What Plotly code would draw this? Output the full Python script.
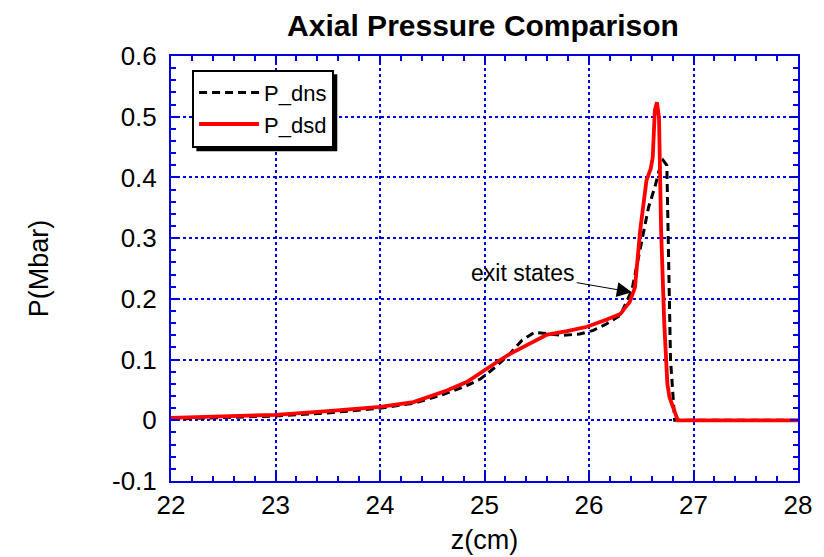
import plotly.graph_objects as go

# ---- data ----
z_dns = [22.0, 22.5, 23.0, 23.5, 24.0, 24.32, 24.58, 24.83, 24.96, 25.10, 25.24,
         25.36, 25.48, 25.63, 25.75, 25.91, 26.04, 26.17, 26.30, 26.41, 26.49,
         26.57, 26.63, 26.68, 26.71, 26.745, 26.78, 26.82, 27.0, 27.5, 28.0]
p_dns = [0.002, 0.004, 0.007, 0.012, 0.020, 0.028, 0.041, 0.057, 0.068, 0.087, 0.109,
         0.132, 0.145, 0.142, 0.140, 0.142, 0.148, 0.159, 0.173, 0.214, 0.285,
         0.351, 0.384, 0.417, 0.428, 0.420, 0.100, 0.0, 0.0, 0.0, 0.0]

z_dsd = [22.0, 22.5, 23.0, 23.5, 24.0, 24.32, 24.64, 24.83, 24.99, 25.12, 25.24,
         25.37, 25.60, 25.79, 25.98, 26.17, 26.30, 26.39, 26.44, 26.49, 26.55,
         26.59, 26.61, 26.63, 26.65, 26.67, 26.69, 26.72, 26.735, 26.75, 26.77,
         26.85, 27.0, 27.5, 28.0]
p_dsd = [0.004, 0.006, 0.009, 0.015, 0.022, 0.030, 0.049, 0.063, 0.082, 0.096, 0.109,
         0.120, 0.141, 0.147, 0.154, 0.166, 0.175, 0.195, 0.219, 0.313, 0.395,
         0.414, 0.433, 0.510, 0.524, 0.499, 0.313, 0.160, 0.090, 0.060, 0.038,
         0.0, 0.0, 0.0, 0.0]

x_ticks = [22, 23, 24, 25, 26, 27, 28]
x_tick_labels = ["22", "23", "24", "25", "26", "27", "28"]
y_ticks = [-0.1, 0.0, 0.1, 0.2, 0.3, 0.4, 0.5, 0.6]
y_tick_labels = ["-0.1", "0", "0.1", "0.2", "0.3", "0.4", "0.5", "0.6"]

title_text = "Axial Pressure Comparison"
x_title = "z(cm)"
y_title = "P(Mbar)"
note_text = "exit states"
note_tip = (26.41, 0.211)
note_pos = (25.37, 0.242)

BLUE = "#0000DD"
FONT = "Liberation Sans, Arial, sans-serif"

fig = go.Figure()
fig.add_trace(go.Scatter(x=z_dns, y=p_dns, mode="lines", name="P_dns",
                         line=dict(color="black", width=3, dash="8px,5px")))
fig.add_trace(go.Scatter(x=z_dsd, y=p_dsd, mode="lines", name="P_dsd",
                         line=dict(color="#FF0000", width=3.8)))

axis_common = dict(
    showline=True, linecolor=BLUE, linewidth=2, mirror="allticks",
    showgrid=True, gridcolor=BLUE, gridwidth=1.6, griddash="3px,3px",
    zeroline=False, ticks="inside", ticklen=8, tickwidth=1.5, tickcolor=BLUE,
    tickfont=dict(family=FONT, size=26, color="black"),
    automargin=False,
)

fig.update_xaxes(range=[22, 28], tickvals=x_ticks, ticktext=x_tick_labels,
                 minor=dict(dtick=0.2, ticks="inside", ticklen=5, tickcolor=BLUE,
                            showgrid=False),
                 title=dict(text=x_title, font=dict(family=FONT, size=27, color="black"),
                            standoff=11),
                 **axis_common)
fig.update_yaxes(range=[-0.1, 0.6], tickvals=y_ticks, ticktext=y_tick_labels,
                 minor=dict(dtick=0.02, ticks="inside", ticklen=5, tickcolor=BLUE,
                            showgrid=False),
                 ticklabelstandoff=7,
                 title=dict(text=y_title, font=dict(family=FONT, size=27, color="black"),
                            standoff=56),
                 **axis_common)

fig.add_annotation(x=note_tip[0], y=note_tip[1], ax=note_pos[0], ay=note_pos[1],
                   xref="x", yref="y", axref="x", ayref="y",
                   text=note_text, showarrow=True, arrowhead=2, arrowsize=3,
                   arrowwidth=1, arrowcolor="black",
                   font=dict(family=FONT, size=23, color="black"))

# legend drop shadow (offset 4 px right/down from the legend box)
fig.add_shape(type="rect", xref="paper", yref="paper",
              x0=0.0405, x1=0.2652, y0=0.7758, y1=0.957,
              fillcolor="black", line=dict(width=0), layer="above")

fig.update_layout(
    width=816, height=549,
    margin=dict(l=163, r=26, t=48, b=76),
    paper_bgcolor="white", plot_bgcolor="white",
    title=dict(text="<b>" + title_text + "</b>", x=475 / 816, xanchor="center",
               y=1 - 17 / 549, yanchor="middle",
               font=dict(family=FONT, size=30, color="black")),
    showlegend=True,
    legend=dict(x=0.0336, y=0.968, xanchor="left", yanchor="top",
                bgcolor="white", bordercolor="black", borderwidth=2,
                itemwidth=60, tracegroupgap=0,
                font=dict(family=FONT, size=22, color="black")),
)

fig.write_html("out.html")
